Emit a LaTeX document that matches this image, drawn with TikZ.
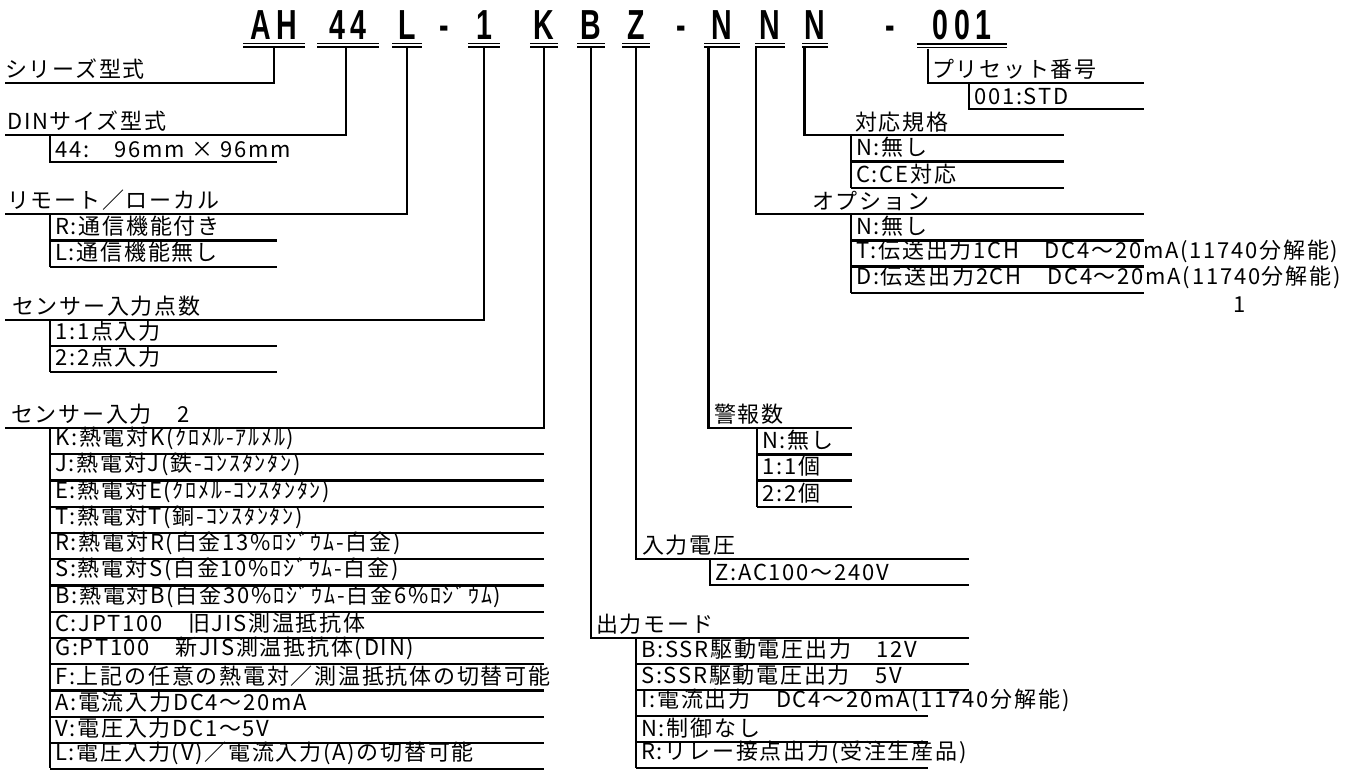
\documentclass[tikz,border=0pt]{standalone}
\usepackage{fontspec}
\setmainfont{Noto Sans CJK JP}
\newfontfamily\itemfont[LetterSpace=8]{Noto Sans CJK JP}
\newfontfamily\codefont[FakeStretch=0.68,LetterSpace=14]{Liberation Sans}
\usetikzlibrary{positioning}

\begin{document}
\begin{tikzpicture}[x=1pt,y=-1pt,
  code/.style={font=\codefont\bfseries\fontsize{42}{42}\selectfont,anchor=base,inner sep=0pt},
  head/.style={font=\itemfont\fontsize{22}{24}\selectfont,anchor=south west,inner sep=0pt},
  opt/.style={font=\itemfont\fontsize{22}{24}\selectfont,anchor=south west,inner sep=0pt},
  lead/.style={line width=2.4pt},
  uline/.style={double,double distance=2.2pt,line width=1.3pt}]
\useasboundingbox (0,0) rectangle (1368,771);

% model code
\node[code,minimum width=62pt] (cAH)  at (274,39) {AH};
\node[code,minimum width=61pt] (c44)  at (348,39) {44};
\node[code,minimum width=29pt] (cL)   at (407,39) {L};
\node[code]                    (d1)   at (444,39) {-};
\node[code,minimum width=31pt] (c1)   at (484,39) {1};
\node[code,minimum width=27pt] (cK)   at (544,39) {K};
\node[code,minimum width=27pt] (cB)   at (591,39) {B};
\node[code,minimum width=27pt] (cZ)   at (636,39) {Z};
\node[code]                    (d2)   at (681,39) {-};
\node[code,minimum width=35pt] (cN1)  at (722,39) {N};
\node[code,minimum width=30pt] (cN2)  at (770,39) {N};
\node[code,minimum width=25pt] (cN3)  at (815,39) {N};
\node[code]                    (d3)   at (890,39) {-};
\node[code,minimum width=90pt] (c001) at (962,39) {001};
\foreach \c in {cAH,c44,cL,c1,cK,cB,cZ,cN1,cN2,cN3,c001}
  \draw[uline] ([yshift=-6pt]\c.south west) -- ([yshift=-6pt]\c.south east);

% headings
\node[head] (series)   at (5,80)    {シリーズ型式};
\node[head] (dinsize)  at (7,132)   {DINサイズ型式};
\node[head] (remote)   at (7,211)   {リモート／ローカル};
\node[head] (points)   at (12,317)  {センサー入力点数};
\node[head] (sensor)   at (11,425)  {センサー入力　2};
\node[head] (preset)   at (932,80)  {プリセット番号};
\node[head] (standard) at (855,132) {対応規格};
\node[head] (option)   at (812,211) {オプション};
\node[head] (alarm)    at (714,425) {警報数};
\node[head] (supply)   at (642,556) {入力電圧};
\node[head] (outmode)  at (596,635) {出力モード};

\coordinate (series-end)   at (5,83);
\coordinate (dinsize-end)  at (5,135);
\coordinate (remote-end)   at (5,214);
\coordinate (points-end)   at (5,320);
\coordinate (sensor-end)   at (5,428);
\coordinate (preset-end)   at (1144,83);
\coordinate (standard-end) at (1064,135);
\coordinate (option-end)   at (1144,214);
\coordinate (alarm-end)    at (852,428);
\coordinate (supply-end)   at (969,559);
\coordinate (outmode-end)  at (969,638);

\tikzset{every path/.style={lead}}
\draw[shorten <=9pt] (cAH.south) |- (series-end);
\draw[shorten <=9pt] ([xshift=-2pt]c44.south) |- (dinsize-end);
\draw[shorten <=9pt] (cL.south) |- (remote-end);
\draw[shorten <=9pt] (c1.south) |- (points-end);
\draw[shorten <=9pt] (cK.south) |- (sensor-end);
\draw[shorten <=9pt] (cB.south) |- (outmode-end);
\draw[shorten <=9pt] (cZ.south) |- (supply-end);
\draw[shorten <=9pt] ([xshift=4pt]cN1.south west) |- (alarm-end);
\draw[shorten <=9pt] ([xshift=1pt]cN2.south west) |- (option-end);
\draw[shorten <=9pt] ([xshift=2pt]cN3.south west) |- (standard-end);
\draw[shorten <=9pt] ([xshift=11pt]c001.south west) |- (preset-end);

% items, left side
\node[opt] (dinsize-1) at (54,159) {44:　96mm × 96mm};
\draw (50,135) |- (277,162);

\foreach \t [count=\i] in {R:通信機能付き, L:通信機能無し}{
  \node[opt] (remote-\i) at (54,{214+26.5*\i-3}) {\t};
  \draw (50,{214+26.5*\i}) -- (277,{214+26.5*\i});
}
\draw (50,214) -- (50,267);

\foreach \t [count=\i] in {1:1点入力, 2:2点入力}{
  \node[opt] (points-\i) at (54,{320+26*\i-3}) {\t};
  \draw (50,{320+26*\i}) -- (277,{320+26*\i});
}
\draw (50,320) -- (50,372);

\foreach \t [count=\i] in {K:熱電対K(ｸﾛﾒﾙ-ｱﾙﾒﾙ), J:熱電対J(鉄-ｺﾝｽﾀﾝﾀﾝ),
    E:熱電対E(ｸﾛﾒﾙ-ｺﾝｽﾀﾝﾀﾝ), T:熱電対T(銅-ｺﾝｽﾀﾝﾀﾝ),
    R:熱電対R(白金13\%ﾛｼﾞｳﾑ-白金), S:熱電対S(白金10\%ﾛｼﾞｳﾑ-白金),
    B:熱電対B(白金30\%ﾛｼﾞｳﾑ-白金6\%ﾛｼﾞｳﾑ), C:JPT100　旧JIS測温抵抗体,
    G:PT100　新JIS測温抵抗体(DIN), F:上記の任意の熱電対／測温抵抗体の切替可能,
    A:電流入力DC4～20mA, V:電圧入力DC1～5V, L:電圧入力(V)／電流入力(A)の切替可能}{
  \node[opt] (sensor-\i) at (54,{428+26.25*\i-3}) {\t};
  \draw (50,{428+26.25*\i}) -- (544,{428+26.25*\i});
}
\draw (50,428) -- (50,768);

% items, right side
\node[opt] (preset-1) at (973,106) {001:STD};
\draw (969,83) |- (1144,109);

\foreach \t [count=\i] in {N:無し, C:CE対応}{
  \node[opt] (standard-\i) at (855,{135+26.5*\i-3}) {\t};
  \draw (851,{135+26.5*\i}) -- (1064,{135+26.5*\i});
}
\draw (851,135) -- (851,188);

\foreach \t [count=\i] in {N:無し, T:伝送出力1CH　DC4～20mA(11740分解能),
    D:伝送出力2CH　DC4～20mA(11740分解能)}{
  \node[opt] (option-\i) at (855,{214+26.33*\i-3}) {\t};
  \draw (851,{214+26.33*\i}) -- (1144,{214+26.33*\i});
}
\draw (851,214) -- (851,293);
\node[opt,anchor=center] (option-note) at (1240,305) {1};

\foreach \t [count=\i] in {N:無し, 1:1個, 2:2個}{
  \node[opt] (alarm-\i) at (761,{428+26.33*\i-3}) {\t};
  \draw (757,{428+26.33*\i}) -- (852,{428+26.33*\i});
}
\draw (757,428) -- (757,507);

\node[opt] (supply-1) at (714,582) {Z:AC100～240V};
\draw (710,559) |- (969,585);

\foreach \t/\e [count=\i] in {B:SSR駆動電圧出力　12V/969, S:SSR駆動電圧出力　5V/969,
    I:電流出力　DC4～20mA(11740分解能)/928, N:制御なし/928,
    R:リレー接点出力(受注生産品)/928}{
  \node[opt] (outmode-\i) at (640,{638+26*\i-3}) {\t};
  \draw (636,{638+26*\i}) -- (\e,{638+26*\i});
}
\draw (636,638) -- (636,768);

\end{tikzpicture}
\end{document}
